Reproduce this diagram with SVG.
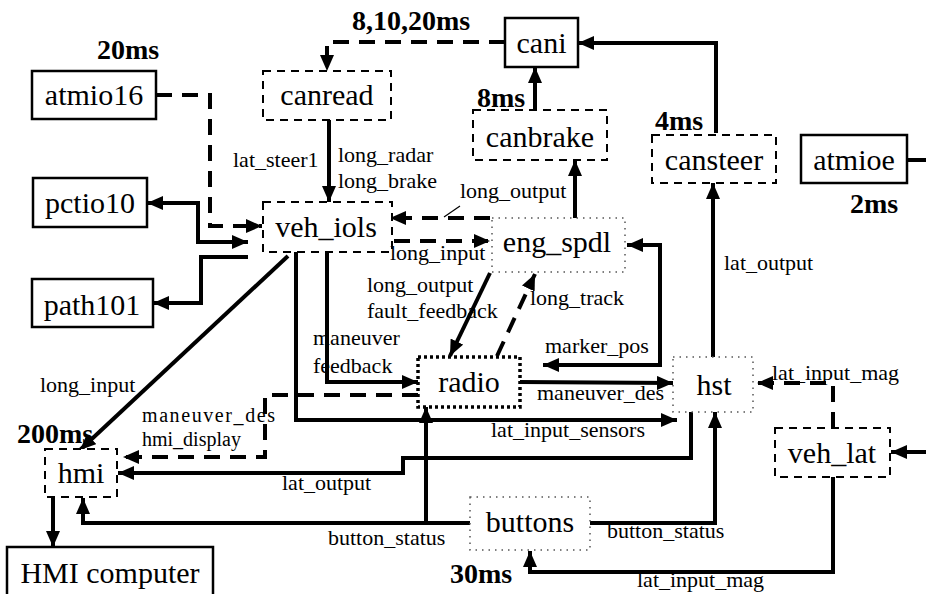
<svg xmlns="http://www.w3.org/2000/svg" width="926" height="594" viewBox="0 0 926 594">
<style>
text{font-family:"Liberation Serif","Times New Roman",serif;fill:#000}
.n{font-size:30px;text-anchor:middle}
.l{font-size:22px}
.s{font-size:20px}
.ms{font-size:28px;font-weight:bold}
.solid{fill:#fff;stroke:#000;stroke-width:2.5}
.dash{fill:#fff;stroke:#000;stroke-width:2;stroke-dasharray:8 6}
.dot{fill:#fff;stroke:#555;stroke-width:1.5;stroke-dasharray:1.5 5}
.dotb{fill:#fff;stroke:#000;stroke-width:3.5;stroke-dasharray:3 3}
.c{fill:none;stroke:#000;stroke-width:4}
.cd{fill:none;stroke:#000;stroke-width:4;stroke-dasharray:16 10}
</style>
<defs>
<marker id="a" viewBox="0 0 16 14" refX="16" refY="7" markerWidth="16" markerHeight="14" markerUnits="userSpaceOnUse" orient="auto-start-reverse">
<path d="M0,0 L16,7 L0,14 Z" fill="#000"/>
</marker>
</defs>
<g id="connectors">
<polyline class="cd" points="505,42 327,42 327,71" marker-end="url(#a)"/>
<polyline class="c" points="716,133 716,43 578,43" marker-end="url(#a)"/>
<line class="c" x1="535" y1="110" x2="535" y2="67" marker-end="url(#a)"/>
<line class="c" x1="575" y1="218" x2="575" y2="160" marker-end="url(#a)"/>
<line class="c" x1="907" y1="160" x2="926" y2="160"/>
<line class="c" x1="329" y1="120" x2="329" y2="202" marker-end="url(#a)"/>
<polyline class="cd" points="156,95 210,95 210,226 262,226" marker-end="url(#a)"/>
<polyline class="c" points="248,242 198,242 198,203 147,203" marker-start="url(#a)" marker-end="url(#a)"/>
<polyline class="c" points="248,257 201,257 201,303 153,303" marker-end="url(#a)"/>
<line class="c" x1="288" y1="256" x2="80" y2="450" marker-end="url(#a)"/>
<polyline class="c" points="327,252 327,382 418,382" marker-end="url(#a)"/>
<polyline class="c" points="296,252 296,420 677,420" marker-end="url(#a)"/>
<line class="cd" x1="490" y1="218" x2="390" y2="218" marker-end="url(#a)"/>
<line x1="460" y1="206" x2="444" y2="217" stroke="#000" stroke-width="1.2"/>
<line class="cd" x1="394" y1="241" x2="490" y2="241" marker-end="url(#a)"/>
<line class="c" x1="490" y1="273" x2="450" y2="356" marker-end="url(#a)"/>
<line class="cd" x1="497" y1="356" x2="535" y2="274" marker-end="url(#a)"/>
<polyline class="c" points="543,365 660,365 660,245 627,245" marker-start="url(#a)" marker-end="url(#a)"/>
<line class="c" x1="520" y1="382" x2="673" y2="383" marker-end="url(#a)"/>
<line class="c" x1="713" y1="357" x2="713" y2="183" marker-end="url(#a)"/>
<polyline class="cd" points="833,428 833,383 757,383" marker-end="url(#a)"/>
<line class="c" x1="926" y1="452" x2="891" y2="452" marker-end="url(#a)"/>
<polyline class="c" points="833,477 833,572 530,572 530,551" marker-end="url(#a)"/>
<polyline class="c" points="590,523 715,523 715,412" marker-end="url(#a)"/>
<polyline class="c" points="470,523 83,523 83,498" marker-end="url(#a)"/>
<line class="c" x1="426" y1="523" x2="426" y2="407" marker-end="url(#a)"/>
<polyline class="c" points="691,412 691,458 403,458 403,473 118,473" marker-end="url(#a)"/>
<polyline class="cd" points="418,395 265,395 265,457 123,457" marker-end="url(#a)"/>
<line class="c" x1="53" y1="497" x2="53" y2="547" marker-end="url(#a)"/>
</g>
<g id="atmio16"><rect class="solid" x="32" y="71" width="124" height="48"/><text class="n" x="94" y="105">atmio16</text></g>
<g id="canread"><rect class="dash" x="263" y="71" width="128" height="49"/><text class="n" x="327" y="105">canread</text></g>
<g id="cani"><rect class="solid" x="505" y="18" width="73" height="49"/><text class="n" x="541.5" y="53">cani</text></g>
<g id="canbrake"><rect class="dash" x="473" y="110" width="134" height="50"/><text class="n" x="540" y="147">canbrake</text></g>
<g id="cansteer"><rect class="dash" x="652" y="135" width="124" height="48"/><text class="n" x="714" y="170">cansteer</text></g>
<g id="atmioe"><rect class="solid" x="801" y="135" width="106" height="48"/><text class="n" x="854" y="170">atmioe</text></g>
<g id="pctio10"><rect class="solid" x="33" y="178" width="114" height="49"/><text class="n" x="90" y="213">pctio10</text></g>
<g id="veh_iols"><rect class="dash" x="263" y="202" width="129" height="50"/><text class="n" x="326" y="237">veh_iols</text></g>
<g id="eng_spdl"><rect class="dot" x="492" y="218" width="133" height="54"/><text class="n" x="557" y="252">eng_spdl</text></g>
<g id="path101"><rect class="solid" x="32" y="279" width="121" height="48"/><text class="n" x="92" y="315">path101</text></g>
<g id="radio"><rect class="dotb" x="418" y="357" width="102" height="50"/><text class="n" x="469" y="392">radio</text></g>
<g id="hst"><rect class="dot" x="673" y="357" width="80" height="55"/><text class="n" x="714" y="395">hst</text></g>
<g id="veh_lat"><rect class="dash" x="775" y="428" width="115" height="49"/><text class="n" x="832" y="463">veh_lat</text></g>
<g id="hmi"><rect class="dash" x="45" y="449" width="72" height="48"/><text class="n" x="81" y="483">hmi</text></g>
<g id="buttons"><rect class="dot" x="470" y="497" width="120" height="53"/><text class="n" x="530" y="532">buttons</text></g>
<g id="hmi_computer"><rect class="solid" x="7" y="547" width="206" height="60"/><text class="n" x="110" y="583">HMI computer</text></g>
<g id="labels">
<text class="ms" x="97" y="59">20ms</text>
<text class="ms" x="352" y="30">8,10,20ms</text>
<text class="ms" x="477" y="107">8ms</text>
<text class="ms" x="655" y="130">4ms</text>
<text class="ms" x="850" y="213">2ms</text>
<text class="ms" x="17" y="443">200ms</text>
<text class="ms" x="450" y="583">30ms</text>
<text class="l" x="233" y="167">lat_steer1</text>
<text class="l" x="338" y="162">long_radar</text>
<text class="l" x="338" y="188">long_brake</text>
<text class="l" x="460" y="198">long_output</text>
<text class="l" x="390" y="260">long_input</text>
<text class="l" x="367" y="292">long_output</text>
<text class="l" x="367" y="318">fault_feedback</text>
<text class="l" x="530" y="305">long_track</text>
<text class="l" x="724" y="270">lat_output</text>
<text class="l" x="313" y="345">maneuver</text>
<text class="l" x="313" y="373">feedback</text>
<text class="l" x="545" y="353">marker_pos</text>
<text class="l" x="537" y="400">maneuver_des</text>
<text class="l" x="772" y="380">lat_input_mag</text>
<text class="l" x="40" y="392">long_input</text>
<text class="s" x="142" y="422" textLength="133">maneuver_des</text>
<text class="s" x="142" y="446">hmi_display</text>
<text class="l" x="491" y="437">lat_input_sensors</text>
<text class="l" x="282" y="490">lat_output</text>
<text class="l" x="328" y="545">button_status</text>
<text class="l" x="607" y="538">button_status</text>
<text class="l" x="637" y="587">lat_input_mag</text>
</g>
</svg>
